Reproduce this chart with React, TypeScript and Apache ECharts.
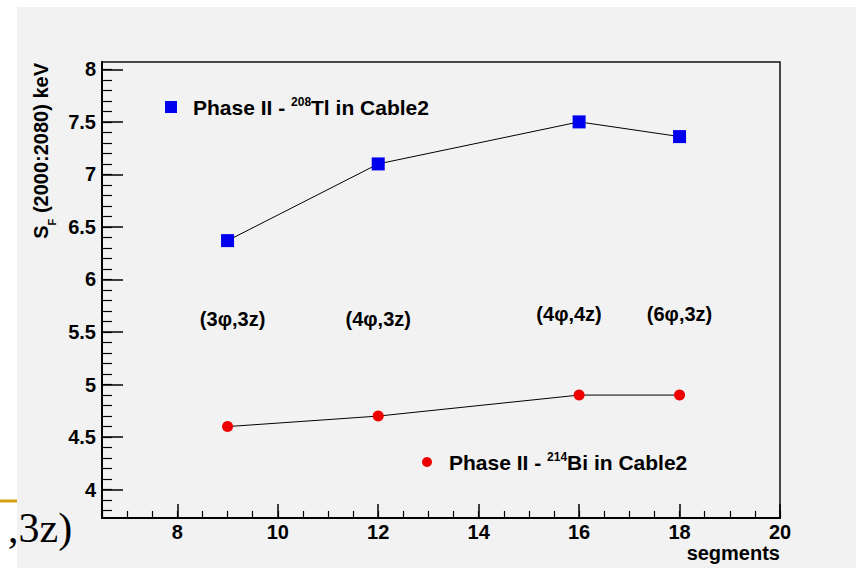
import React, { useEffect, useRef } from "react";
import * as echarts from "echarts";

const segments = [9, 12, 16, 18];
const tlValues = [6.37, 7.1, 7.5, 7.36];
const biValues = [4.6, 4.7, 4.9, 4.9];
const configLabels = ["(3φ,3z)", "(4φ,3z)", "(4φ,4z)", "(6φ,3z)"];
const configX = [9.1, 12, 15.8, 18];
const configY = [5.62, 5.62, 5.67, 5.67];
const xTickLabels = [8, 10, 12, 14, 16, 18, 20];
const yTickLabels = [4, 4.5, 5, 5.5, 6, 6.5, 7, 7.5, 8];

const X_MIN = 6.5;
const X_MAX = 20;
const Y_MIN = 3.73;
const Y_MAX = 8.07;

const FONT = "Liberation Sans, Arial, Helvetica, sans-serif";

function range(a: number, b: number, step: number) {
  const out: number[] = [];
  for (let i = 0; a + i * step <= b + 1e-9; i++) out.push(Math.round((a + i * step) * 100) / 100);
  return out;
}

export default function App() {
  const ref = useRef<HTMLDivElement>(null);
  useEffect(() => {
    if (!ref.current) return;
    const chart = echarts.init(ref.current, null, { renderer: "svg" });
    const xMinor = range(6.5, 20, 0.5);
    const yMinor = range(3.8, 8.0, 0.1);
    const baseText = { fontFamily: FONT, fontWeight: "bold" as const, fontSize: 20, color: "#000" };
    const legendRich = {
      a: { ...baseText, fontSize: 21, lineHeight: 22, verticalAlign: "bottom" },
      sup: { fontFamily: FONT, fontWeight: "bold", fontSize: 12, color: "#000", lineHeight: 22, verticalAlign: "top" },
    };
    chart.setOption({
      animation: false,
      backgroundColor: "#ffffff",
      grid: {
        left: 102,
        right: 76,
        top: 62,
        bottom: 50,
        show: true,
        borderColor: "#111",
        borderWidth: 1.5,
        backgroundColor: "transparent",
      },
      xAxis: [
        {
          type: "value",
          min: X_MIN,
          max: X_MAX,
          position: "bottom",
          axisLine: { show: true, onZero: false, lineStyle: { color: "#000", width: 2 } },
          axisTick: { show: true, inside: true, length: 14, customValues: xTickLabels, lineStyle: { color: "#000", width: 1.5 } },
          axisLabel: { show: true, customValues: xTickLabels, margin: 4, ...baseText },
          splitLine: { show: false },
        },
        {
          type: "value",
          min: X_MIN,
          max: X_MAX,
          position: "bottom",
          axisLine: { show: false },
          axisTick: { show: true, inside: true, length: 7, customValues: xMinor, lineStyle: { color: "#000", width: 1.2 } },
          axisLabel: { show: false },
          splitLine: { show: false },
        },
      ],
      yAxis: [
        {
          type: "value",
          min: Y_MIN,
          max: Y_MAX,
          position: "left",
          axisLine: { show: true, onZero: false, lineStyle: { color: "#000", width: 2 } },
          axisTick: { show: true, inside: true, length: 21, customValues: yTickLabels, lineStyle: { color: "#000", width: 1.5 } },
          axisLabel: { show: true, customValues: yTickLabels, margin: 6, ...baseText },
          splitLine: { show: false },
        },
        {
          type: "value",
          min: Y_MIN,
          max: Y_MAX,
          position: "left",
          axisLine: { show: false },
          axisTick: { show: true, inside: true, length: 10, customValues: yMinor, lineStyle: { color: "#000", width: 1.2 } },
          axisLabel: { show: false },
          splitLine: { show: false },
        },
      ],
      legend: [
        {
          data: [{ name: "Tl", icon: "rect" }],
          left: 165,
          top: 96,
          padding: 0,
          itemWidth: 12,
          itemHeight: 12,
          selectedMode: false,
          formatter: () => "{a|Phase II - }{sup|208}{a|Tl in Cable2}",
          textStyle: { padding: [0, 0, 0, 11], rich: legendRich },
        },
        {
          data: [{ name: "Bi", icon: "circle" }],
          left: 422,
          top: 451,
          padding: 0,
          itemWidth: 10,
          itemHeight: 10,
          selectedMode: false,
          formatter: () => "{a|Phase II - }{sup|214}{a|Bi in Cable2}",
          textStyle: { padding: [0, 0, 0, 12], rich: legendRich },
        },
      ],
      graphic: [
        { type: "rect", z: -10, silent: true, shape: { x: 17, y: 7, width: 839, height: 561 }, style: { fill: "#f2f2f2" } },
        {
          type: "text",
          x: 44,
          y: 63,
          rotation: Math.PI / 2,
          style: {
            text: "{a|S}{sub|F}{a| (2000:2080) keV}",
            align: "right",
            verticalAlign: "middle",
            rich: {
              a: { fontFamily: FONT, fontWeight: "bold", fontSize: 20, fill: "#000", lineHeight: 26, verticalAlign: "top" },
              sub: { fontFamily: FONT, fontWeight: "bold", fontSize: 11, fill: "#000", lineHeight: 26, verticalAlign: "bottom" },
            },
          },
        },
        {
          type: "text",
          x: 780,
          y: 553,
          style: { text: "segments", align: "right", verticalAlign: "middle", font: `bold 20px ${FONT}`, fill: "#000" },
        },
        { type: "line", shape: { x1: 0, y1: 501, x2: 17, y2: 501 }, style: { stroke: "#d4a017", lineWidth: 3 } },
        {
          type: "text",
          x: 8,
          y: 549,
          style: { text: ",3z)", align: "left", verticalAlign: "bottom", font: `42px "Liberation Serif", "DejaVu Serif", serif`, fill: "#000" },
        },
      ],
      series: [
        {
          name: "Tl",
          type: "line",
          data: segments.map((x, i) => [x, tlValues[i]]),
          symbol: "rect",
          symbolSize: 13,
          itemStyle: { color: "#0000ee" },
          lineStyle: { color: "#000", width: 1 },
          z: 5,
        },
        {
          name: "Bi",
          type: "line",
          data: segments.map((x, i) => [x, biValues[i]]),
          symbol: "circle",
          symbolSize: 11,
          itemStyle: { color: "#ee0000" },
          lineStyle: { color: "#000", width: 1 },
          z: 5,
        },
        {
          name: "configs",
          type: "scatter",
          data: configX.map((x, i) => [x, configY[i]]),
          symbolSize: 1,
          itemStyle: { color: "rgba(0,0,0,0)", opacity: 1 },
          silent: true,
          label: {
            show: true,
            position: "inside",
            formatter: (p: any) => configLabels[p.dataIndex],
            ...baseText,
            opacity: 1,
            textBorderWidth: 0,
          },
        },
      ],
    });
    return () => chart.dispose();
  }, []);
  return <div ref={ref} style={{ position: "fixed", left: 0, top: 0, width: 856, height: 568 }} />;
}
